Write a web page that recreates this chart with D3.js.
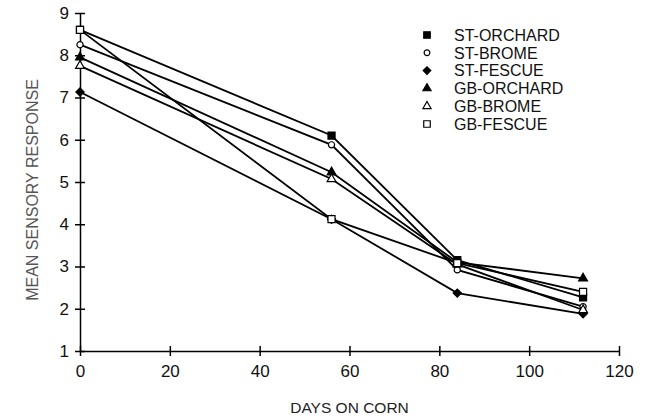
<!DOCTYPE html>
<html>
<head>
<meta charset="utf-8">
<style>
  body { margin: 0; background: #fff; }
  svg { display: block; font-family: "Liberation Sans", Arial, sans-serif; }
</style>
</head>
<body>
<div id="chart"></div>
<script src="https://d3js.org/d3.v7.min.js"></script>
<script>
// days on corn and mean sensory response per treatment
const days = [0, 56, 84, 112];
const stOrchard = [8.6, 6.1, 3.15, 2.27];
const stBrome   = [8.25, 5.88, 2.92, 2.05];
const stFescue  = [7.13, 4.12, 2.37, 1.88];
const gbOrchard = [7.95, 5.23, 3.1, 2.72];
const gbBrome   = [7.75, 5.07, 3.05, 1.97];
const gbFescue  = [8.6, 4.12, 3.08, 2.4];

const xTicks = [0, 20, 40, 60, 80, 100, 120];
const yTicks = [1, 2, 3, 4, 5, 6, 7, 8, 9];

const series = [
  { name: "ST-ORCHARD", values: stOrchard, shape: "square",   filled: true },
  { name: "ST-BROME",   values: stBrome,   shape: "circle",   filled: false },
  { name: "ST-FESCUE",  values: stFescue,  shape: "diamond",  filled: true },
  { name: "GB-ORCHARD", values: gbOrchard, shape: "triangle", filled: true },
  { name: "GB-BROME",   values: gbBrome,   shape: "triangle", filled: false },
  { name: "GB-FESCUE",  values: gbFescue,  shape: "square",   filled: false }
];

const width = 650, height = 420;
const margin = { top: 13, right: 31, bottom: 69, left: 80 };

const x = d3.scaleLinear().domain([0, 120]).range([margin.left, width - margin.right]);
const y = d3.scaleLinear().domain([1, 9]).range([height - margin.bottom, margin.top]);

const svg = d3.select("#chart").append("svg")
    .attr("width", width)
    .attr("height", height);

// axes, ticks cross the axis line
const xAxis = svg.append("g")
    .attr("transform", `translate(0,${y(1)})`)
    .call(d3.axisBottom(x).tickValues(xTicks).tickSize(5).tickSizeOuter(0).tickPadding(9));
xAxis.selectAll(".tick line").attr("y1", -5).attr("stroke-width", 1.5);

const yAxis = svg.append("g")
    .attr("transform", `translate(${x(0)},0)`)
    .call(d3.axisLeft(y).tickValues(yTicks).tickSize(5).tickSizeOuter(0).tickPadding(6));
yAxis.selectAll(".tick line").attr("x1", 5).attr("stroke-width", 1.5);

svg.selectAll(".domain").attr("stroke-width", 1.5);
svg.selectAll(".tick text").attr("font-size", 17).attr("fill", "#111");

svg.append("text")
    .attr("x", (x(0) + x(120)) / 2)
    .attr("y", 413)
    .attr("text-anchor", "middle")
    .attr("font-size", 15.5)
    .attr("fill", "#222")
    .text("DAYS ON CORN");

svg.append("text")
    .attr("transform", `translate(38,${(y(1) + y(9)) / 2 + 8}) rotate(-90)`)
    .attr("text-anchor", "middle")
    .attr("font-size", 16)
    .attr("fill", "#555")
    .text("MEAN SENSORY RESPONSE");

const line = d3.line()
    .x((d, i) => x(days[i]))
    .y(d => y(d));

const sizes = { square: 50, circle: 30, diamond: 34, triangle: 34 };
const symbolPath = (shape, k) => {
  const type = shape === "circle" ? d3.symbolCircle
    : shape === "triangle" ? d3.symbolTriangle : d3.symbolSquare;
  return d3.symbol().type(type).size(sizes[shape] * k)();
};
const rot = shape => shape === "diamond" ? " rotate(45)" : "";

series.forEach(s => {
  svg.append("path")
      .datum(s.values)
      .attr("fill", "none")
      .attr("stroke", "#000")
      .attr("stroke-width", 1.8)
      .attr("d", line);
});

series.forEach(s => {
  svg.selectAll(null)
    .data(s.values)
    .join("path")
      .attr("transform", (d, i) => `translate(${x(days[i])},${y(d)})${rot(s.shape)}`)
      .attr("d", symbolPath(s.shape, 1))
      .attr("fill", s.filled ? "#000" : "#fff")
      .attr("stroke", "#000")
      .attr("stroke-width", 1.2);
});

// legend
const legend = svg.append("g");
series.forEach((s, i) => {
  const ly = 35 + i * 17.8;
  legend.append("path")
      .attr("transform", `translate(427,${ly})${rot(s.shape)}`)
      .attr("d", symbolPath(s.shape, 0.85))
      .attr("fill", s.filled ? "#000" : "#fff")
      .attr("stroke", "#000")
      .attr("stroke-width", 1.2);
  legend.append("text")
      .attr("x", 454)
      .attr("y", ly)
      .attr("dy", "0.36em")
      .attr("font-size", 16)
      .attr("fill", "#111")
      .text(s.name);
});
</script>
</body>
</html>
